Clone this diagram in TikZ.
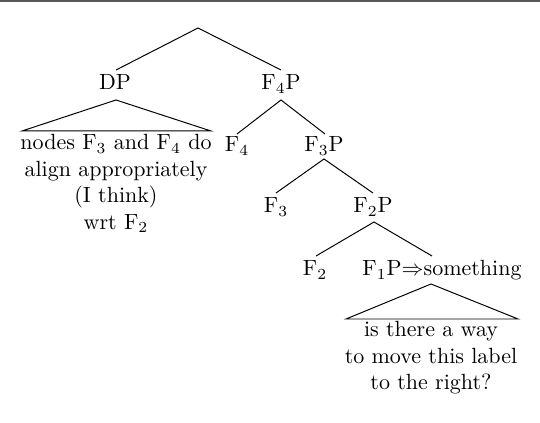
\documentclass[tikz,border=0pt]{standalone}
\begin{document}
\begin{tikzpicture}[x=0.4545pt,y=-0.4545pt,
  lbl/.style={anchor=base,inner sep=0pt,outer sep=0pt},
  blk/.style={anchor=north,inner sep=0pt,outer sep=0pt,align=center},
  branch/.style={draw=black,line width=0.45pt}]
\useasboundingbox (0,0) rectangle (540,423);
\fill[black!65] (0,0) rectangle (540,2.2);
% labels
\node[lbl] (dp) at (115,90) {DP};
\node[lbl] (f4p) at (281,90) {F$_4$P};
\node[blk] (dptext) at (116,134.7) {nodes F$_3$ and F$_4$ do\\align appropriately\\(I think)\\wrt F$_2$};
\node[lbl] (f4) at (237,152) {F$_4$};
\node[lbl] (f3p) at (324,152) {F$_3$P};
\node[lbl] (f3) at (276,213) {F$_3$};
\node[lbl] (f2p) at (373,213) {F$_2$P};
\node[lbl] (f2) at (315,276) {F$_2$};
\node[lbl] (f1p) at (442,276) {F$_1$P$\Rightarrow$something};
\node[blk] (f1text) at (431,321.7) {is there a way\\to move this label\\to the right?};
% branch points
\coordinate (root) at (198,28);
\coordinate (dpTop) at (116,70);
\coordinate (f4pTop) at (281,70);
\coordinate (dpApex) at (116,100);
\coordinate (dpL) at (22,131);
\coordinate (dpR) at (211,131);
\coordinate (f4pApex) at (281,100);
\coordinate (f4Top) at (237,134);
\coordinate (f3pTop) at (325,134);
\coordinate (f3pApex) at (324,159);
\coordinate (f3Top) at (276,193);
\coordinate (f2pTop) at (373,193);
\coordinate (f2pApex) at (374,222);
\coordinate (f2Top) at (316,256);
\coordinate (f1pTop) at (432,256);
\coordinate (f1Apex) at (431,284);
\coordinate (f1L) at (346,319);
\coordinate (f1R) at (518,319);
% edges
\draw[branch] (dpTop) -- (root) -- (f4pTop);
\draw[branch] (dpL) -- (dpApex) -- (dpR) -- cycle;
\draw[branch] (f4Top) -- (f4pApex) -- (f3pTop);
\draw[branch] (f3Top) -- (f3pApex) -- (f2pTop);
\draw[branch] (f2Top) -- (f2pApex) -- (f1pTop);
\draw[branch] (f1L) -- (f1Apex) -- (f1R) -- cycle;
\end{tikzpicture}
\end{document}
